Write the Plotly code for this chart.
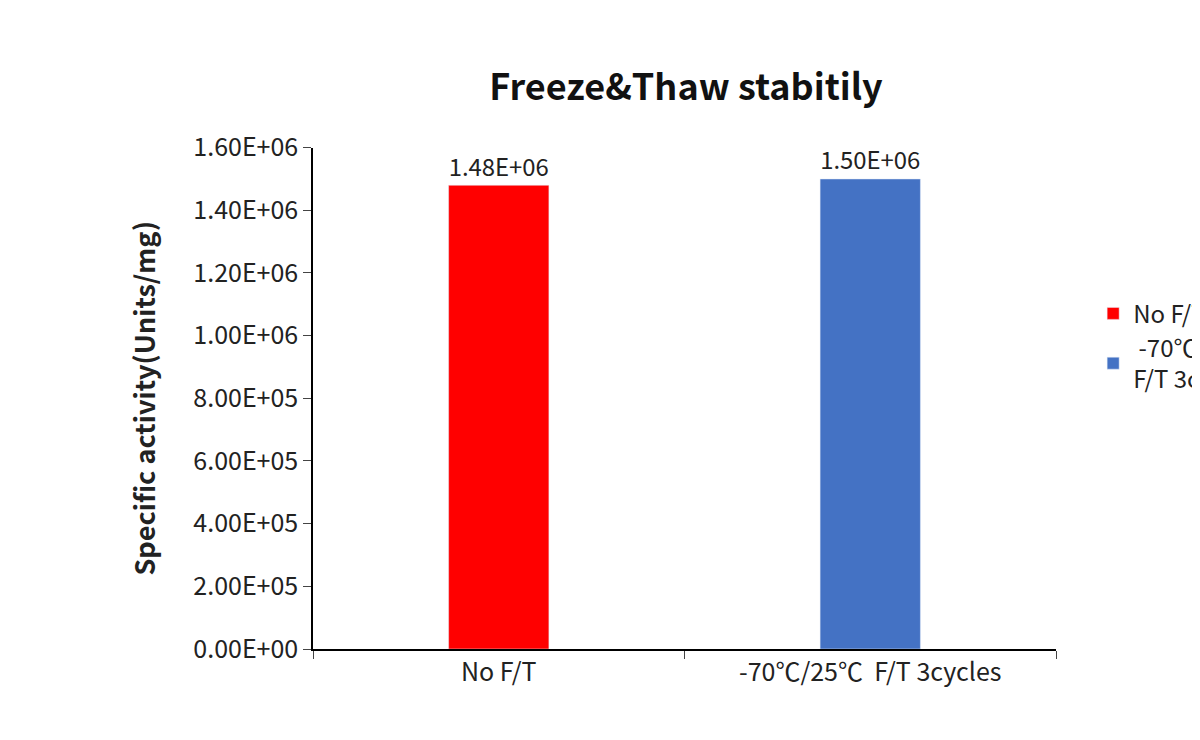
import plotly.graph_objects as go

categories = ["No F/T", "-70℃/25℃  F/T 3cycles"]
legend_names = ["No F/T", " -70℃/25℃<br>F/T 3cycles"]
values = [1.48e6, 1.50e6]
value_labels = ["1.48E+06", "1.50E+06"]
colors = ["#FF0000", "#4472C4"]
tick_vals = [0, 2e5, 4e5, 6e5, 8e5, 1e6, 1.2e6, 1.4e6, 1.6e6]
tick_text = ["0.00E+00", "2.00E+05", "4.00E+05", "6.00E+05", "8.00E+05",
             "1.00E+06", "1.20E+06", "1.40E+06", "1.60E+06"]

font = "Noto Sans CJK SC, Noto Sans, sans-serif"
fig = go.Figure()
for i in range(2):
    fig.add_trace(go.Bar(
        x=[categories[i]], y=[values[i]], name=legend_names[i],
        marker_color=colors[i], width=0.27,
        text=[value_labels[i]], textposition="outside",
        textfont=dict(size=25, color="#222"), cliponaxis=False))

fig.update_layout(
    width=1200, height=740, barmode="overlay",
    paper_bgcolor="white", plot_bgcolor="white",
    font=dict(family=font, size=24, color="#222"),
    title=dict(text="<b>Freeze&Thaw stabitily</b>", x=0.565, xanchor="center",
               y=0.91, font=dict(size=36, color="#111")),
    margin=dict(l=305, r=152, t=99, b=99, autoexpand=False),
    legend=dict(x=1.05, y=0.66, yanchor="top", font=dict(size=24),
                tracegroupgap=60, itemwidth=30),
    xaxis=dict(showline=True, linecolor="black", linewidth=1.5,
               ticks="outside", tickson="boundaries", ticklen=8,
               tickfont=dict(size=25)),
    yaxis=dict(range=[0, 1.6e6], tickvals=tick_vals, ticktext=tick_text,
               showline=True, linecolor="black", linewidth=1.5,
               ticks="outside", ticklen=8, showgrid=False,
               tickfont=dict(size=25),
               domain=[0, 0.925],
               title=dict(text="<b>Specific activity(Units/mg)</b>",
                          font=dict(size=27), standoff=30)),
)
fig.write_html("out.html")
